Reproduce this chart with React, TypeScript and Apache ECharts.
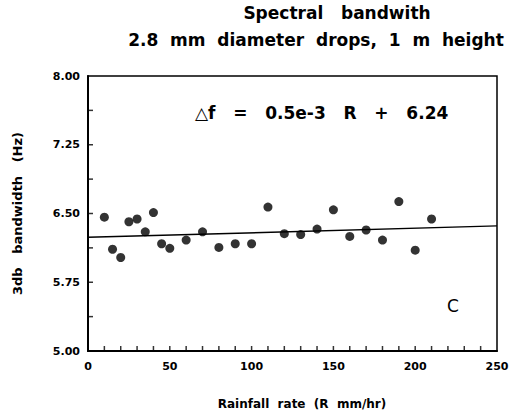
import React, { useEffect, useRef } from "react";
import * as echarts from "echarts";

const rainfallRate = [10, 15, 20, 25, 30, 35, 40, 45, 50, 60, 70, 80, 90, 100, 110, 120, 130, 140, 150, 160, 170, 180, 190, 200, 210];
const bandwidth = [6.46, 6.11, 6.02, 6.41, 6.44, 6.30, 6.51, 6.17, 6.12, 6.21, 6.30, 6.13, 6.17, 6.17, 6.57, 6.28, 6.27, 6.33, 6.54, 6.25, 6.32, 6.21, 6.63, 6.10, 6.44];
const fitR = [0, 250];
const fitF = [6.24, 6.365];
const xTickValues = [10, 20, 30, 40, 50, 60, 70, 80, 90, 100, 110, 120, 130, 140, 150, 160, 170, 180, 190, 200, 210, 220, 230, 240];
const yTickValues = [5.375, 5.75, 6.125, 6.5, 6.875, 7.25, 7.625];
const titleLines = ["Spectral   bandwith", "2.8  mm  diameter  drops,  1  m  height"];
const xTitle = "Rainfall  rate  (R  mm/hr)";
const yTitle = "3db   bandwidth   (Hz)";
const equation = "\u25B3f   =   0.5e-3   R   +   6.24";
const panelLetter = "C";

const FONT = "'DejaVu Sans', 'Liberation Sans', sans-serif";

export default function App() {
  const ref = useRef<HTMLDivElement>(null);
  useEffect(() => {
    document.body.style.margin = "0";
    const chart = echarts.init(ref.current!, null, { renderer: "svg" });
    chart.setOption({
      animation: false,
      backgroundColor: "#ffffff",
      textStyle: { fontFamily: FONT },
      grid: { left: 88, top: 76, width: 409, height: 275, show: true, borderColor: "#000", borderWidth: 1.5, backgroundColor: "transparent" },
      xAxis: {
        type: "value", min: 0, max: 250, interval: 50,
        axisLine: { show: true, lineStyle: { color: "#000", width: 2 } },
        axisTick: { show: false },
        axisLabel: { color: "#000", fontSize: 11, fontWeight: "bold", margin: 10, fontFamily: FONT },
        splitLine: { show: false },
      },
      yAxis: {
        type: "value", min: 5, max: 8, interval: 0.75,
        axisLine: { show: true, lineStyle: { color: "#000", width: 2 } },
        axisTick: { show: false },
        axisLabel: { color: "#000", fontSize: 11, fontWeight: "bold", margin: 8, fontFamily: FONT, formatter: (v: number) => v.toFixed(2) },
        splitLine: { show: false },
        name: yTitle, nameLocation: "middle", nameRotate: 90, nameGap: 64,
        nameTextStyle: { color: "#000", fontSize: 13, fontWeight: "bold", fontFamily: FONT },
      },
      graphic: [
        { type: "text", x: 337, y: 13, style: { text: titleLines[0], fill: "#000", font: `bold 17px ${FONT}`, textAlign: "center", textVerticalAlign: "middle" } },
        { type: "text", x: 316, y: 40, style: { text: titleLines[1], fill: "#000", font: `bold 17px ${FONT}`, textAlign: "center", textVerticalAlign: "middle" } },
        { type: "text", x: 302, y: 404, style: { text: xTitle, fill: "#000", font: `bold 12px ${FONT}`, textAlign: "center", textVerticalAlign: "middle" } },
        { type: "text", x: 195, y: 113, style: { text: equation, fill: "#000", font: `bold 17px ${FONT}`, textAlign: "left", textVerticalAlign: "middle" } },
        { type: "text", x: 453, y: 306, style: { text: panelLetter, fill: "#000", font: `17px ${FONT}`, textAlign: "center", textVerticalAlign: "middle" } },
      ],
      series: [
        {
          type: "scatter", data: xTickValues.map((v) => [v, 5]), symbol: "rect", symbolSize: [1.5, 5],
          symbolOffset: [0, -2.5], itemStyle: { color: "#000" }, silent: true, clip: false, z: 4,
        },
        {
          type: "scatter", data: yTickValues.map((v) => [0, v]), symbol: "rect", symbolSize: [5, 1.5],
          symbolOffset: [2.5, 0], itemStyle: { color: "#000" }, silent: true, clip: false, z: 4,
        },
        {
          type: "line", data: fitR.map((r, i) => [r, fitF[i]]), showSymbol: false, symbol: "none",
          lineStyle: { color: "#000", width: 1.5 }, z: 2,
        },
        {
          type: "scatter", data: rainfallRate.map((r, i) => [r, bandwidth[i]]), symbol: "circle", symbolSize: 9,
          itemStyle: { color: "#000" }, z: 3,
        },
      ],
    });
    return () => chart.dispose();
  }, []);
  return <div ref={ref} style={{ position: "absolute", left: 0, top: 0, width: 518, height: 414 }} />;
}
